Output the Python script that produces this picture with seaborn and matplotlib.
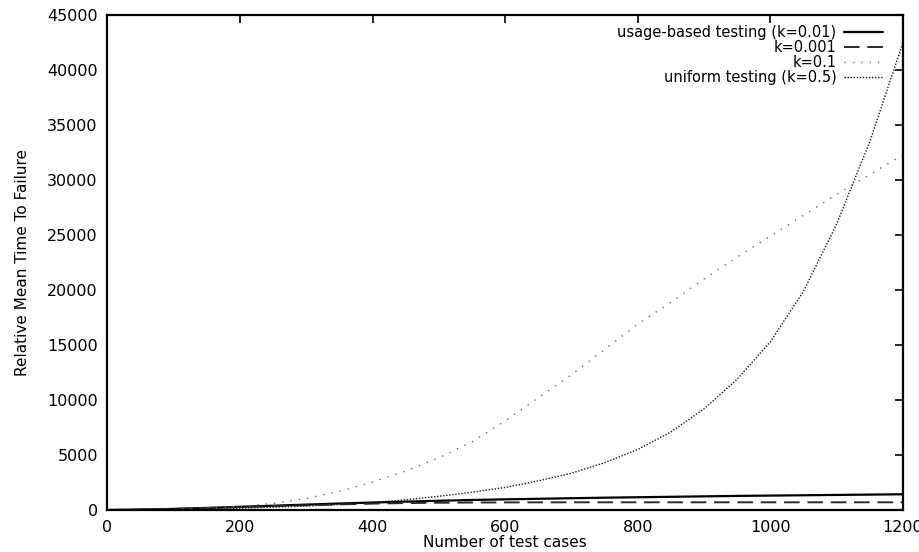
import matplotlib
matplotlib.use("Agg")
import matplotlib.pyplot as plt
import seaborn as sns
import numpy as np

# ---- data ----
test_cases = [0, 50, 100, 150, 200, 250, 300, 350, 400, 450, 500, 550, 600,
              650, 700, 750, 800, 850, 900, 950, 1000, 1050, 1100, 1150, 1200]
usage_k001 = [0, 40, 100, 190, 290, 390, 490, 590, 680, 760, 840, 910, 970,
              1020, 1070, 1120, 1160, 1200, 1240, 1280, 1310, 1340, 1370, 1400, 1430]
k_0001 = [0, 40, 100, 180, 270, 350, 430, 510, 580, 630, 660, 680, 690,
          695, 700, 700, 700, 700, 700, 700, 700, 700, 700, 700, 700]
k_01 = [0, 20, 80, 180, 330, 600, 1050, 1700, 2550, 3550, 4750, 6200, 8100,
        10200, 12300, 14600, 16900, 18900, 21000, 23000, 24900, 26800, 28700, 30500, 32300]
uniform_k05 = [0, 15, 45, 100, 170, 260, 360, 500, 680, 930, 1250, 1620, 2050,
               2650, 3350, 4300, 5500, 7100, 9200, 11900, 15300, 19900, 26000, 33500, 42500]

labels = ["usage-based testing (k=0.01)", "k=0.001", "k=0.1", "uniform testing (k=0.5)"]
x_ticks = [0, 200, 400, 600, 800, 1000, 1200]
y_ticks = [0, 5000, 10000, 15000, 20000, 25000, 30000, 35000, 40000, 45000]

sns.set_theme(style="white")
plt.rcParams["font.family"] = ["DejaVu Sans"]
plt.rcParams["text.color"] = "black"
plt.rcParams["axes.labelcolor"] = "black"

fig = plt.figure(figsize=(9.2, 5.52), dpi=100)
ax = fig.add_axes([107.5 / 920, 1 - 510 / 552, (903 - 107.5) / 920, (510 - 15) / 552])

series = [usage_k001, k_0001, k_01, uniform_k05]
styles = [
    dict(color="black", linestyle="-", linewidth=1.6),
    dict(color="#2a2a2a", linestyle=(0, (8, 4)), linewidth=1.4),
    dict(color="#6a6a6a", linestyle=(0, (1, 5)), linewidth=1.0),
    dict(color="#1a1a1a", linestyle=(0, (1, 1.2)), linewidth=1.0),
]
for vals, lab, st in zip(series, labels, styles):
    sns.lineplot(x=test_cases, y=vals, ax=ax, label=lab, **st)

ax.set_xlim(0, 1200)
ax.set_ylim(0, 45000)
ax.set_xticks(x_ticks)
ax.set_yticks(y_ticks)
ax.set_xticklabels([str(t) for t in x_ticks])
ax.set_yticklabels([str(t) for t in y_ticks])
ax.tick_params(direction="in", length=6, width=1.2, top=True, right=True,
               labelsize=11.5, colors="black", pad=7)
for sp in ax.spines.values():
    sp.set_visible(True)
    sp.set_color("black")
    sp.set_linewidth(1.6)

ax.set_xlabel("Number of test cases", fontsize=11, labelpad=0, color="black")
ax.set_ylabel("Relative Mean Time To Failure", fontsize=11, labelpad=12, color="black")

leg = ax.legend(loc="upper right", bbox_to_anchor=(0.975, 0.98), frameon=False,
                markerfirst=False, fontsize=10.5, handlelength=2.7,
                handletextpad=0.5, labelspacing=0.0, borderaxespad=0, borderpad=0)
for t in leg.get_texts():
    t.set_color("black")

fig.savefig("out.png", dpi=100)
